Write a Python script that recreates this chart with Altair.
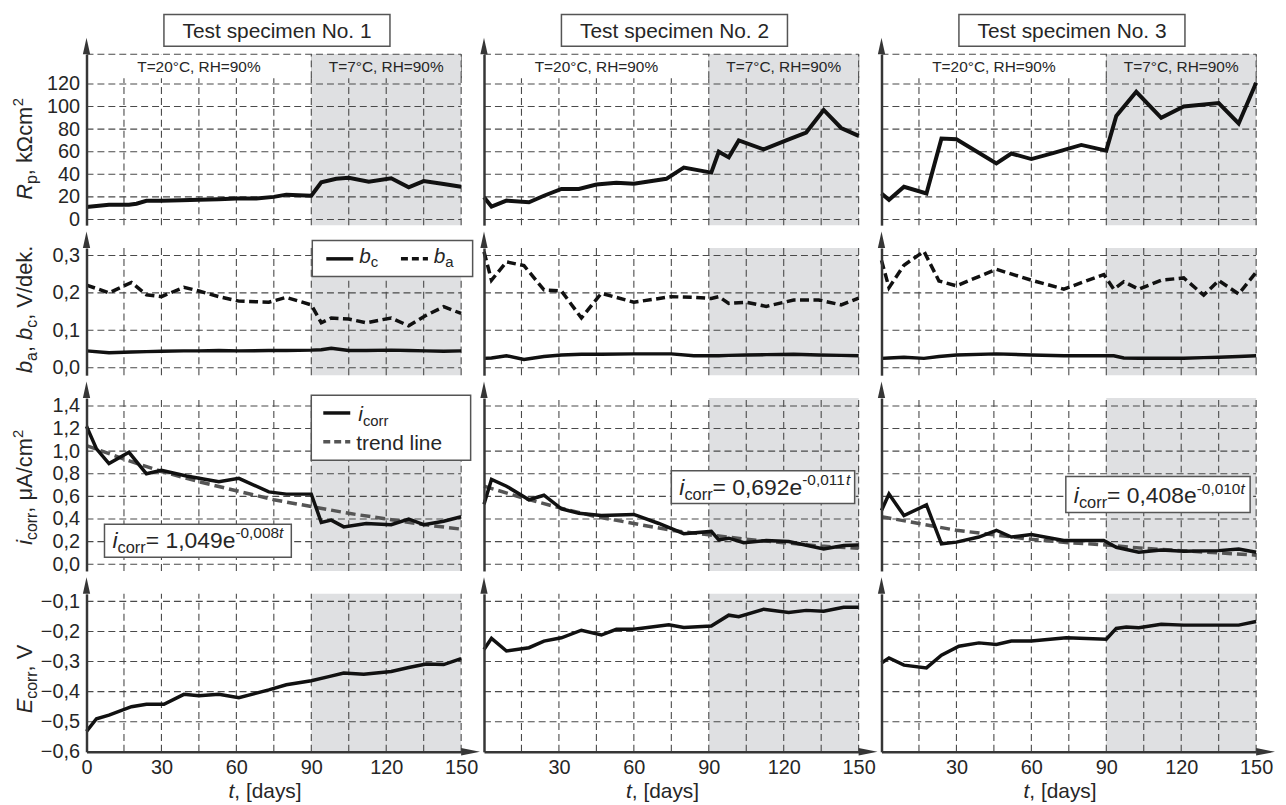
import altair as alt
import pandas as pd

FONT = "Liberation Sans"
TXT = "#262626"
AXC = "#363636"
GRIDC = "#4a4a4a"
SHADE = "#dfe0e2"
LINEC = "#111111"
TRENDC = "#555555"

# ---------------- categories / ticks ----------------
SPECIMENS = ["Test specimen No. 1", "Test specimen No. 2", "Test specimen No. 3"]
CONDITIONS = ["T=20°C, RH=90%", "T=7°C, RH=90%"]
DAY_GRID = [15, 30, 45, 60, 75, 90, 105, 120, 135, 150]
DAY_LABELS_FIRST = [0, 30, 60, 90, 120, 150]
DAY_LABELS_OTHER = [30, 60, 90, 120, 150]
COLD_PERIOD = [90, 150]
RP_TICKS = [0, 20, 40, 60, 80, 100, 120]
B_TICKS = [0.0, 0.1, 0.2, 0.3]
I_TICKS = [0.0, 0.2, 0.4, 0.6, 0.8, 1.0, 1.2, 1.4]
E_TICKS = [-0.6, -0.5, -0.4, -0.3, -0.2, -0.1]
EQ_COEF = ["1,049", "0,692", "0,408"]
EQ_EXP = ["-0,008", "-0,011", "-0,010"]

# ---------------- specimen 1 ----------------
T1_RP = [0, 4, 9, 17, 20, 24, 30, 38, 45, 53, 60, 68, 75, 80, 90, 94, 100, 105, 113, 122, 129, 135, 143, 150]
RP1 = [11, 12, 13, 13, 14, 16.5, 16.5, 17, 17.5, 18, 18.5, 18.5, 20, 22, 21, 33, 36, 37, 33.5, 36.5, 28.5, 34, 31.5, 29]
T1_B = [0, 9, 18, 24, 30, 39, 45, 53, 61, 73, 80, 90, 94, 98, 105, 112, 122, 129, 136, 143, 150]
BA1 = [0.221, 0.20, 0.228, 0.195, 0.19, 0.215, 0.205, 0.19, 0.178, 0.175, 0.188, 0.168, 0.12, 0.133, 0.13, 0.12, 0.133, 0.112, 0.14, 0.163, 0.145]
BC1 = [0.045, 0.040, 0.042, 0.043, 0.044, 0.045, 0.045, 0.046, 0.045, 0.046, 0.046, 0.047, 0.048, 0.052, 0.046, 0.046, 0.047, 0.046, 0.045, 0.044, 0.045]
T1_I = [0, 4, 9, 17, 24, 30, 40, 53, 61, 73, 80, 90, 94, 98, 103, 112, 122, 129, 135, 143, 150]
IC1 = [1.22, 1.02, 0.89, 0.99, 0.80, 0.83, 0.78, 0.73, 0.76, 0.64, 0.62, 0.62, 0.37, 0.39, 0.33, 0.36, 0.35, 0.40, 0.35, 0.38, 0.42]
T1_E = [0, 4, 9, 18, 24, 31, 39, 45, 53, 61, 73, 80, 90, 97, 103, 111, 122, 129, 136, 143, 150]
EC1 = [-0.532, -0.49, -0.478, -0.45, -0.442, -0.442, -0.409, -0.414, -0.409, -0.42, -0.394, -0.377, -0.364, -0.35, -0.338, -0.342, -0.333, -0.32, -0.308, -0.31, -0.29]

# ---------------- specimen 2 ----------------
T2_RP = [0, 3, 9, 18, 24, 31, 38, 45, 53, 60, 73, 80, 91, 94, 98, 102, 112, 121, 129, 136, 143, 150]
RP2 = [19.6, 11.5, 16.7, 15.3, 21, 27, 27, 31, 32.6, 31.7, 36, 46, 41.5, 60, 55, 70, 62, 70, 77, 97, 81, 74]
T2_B = [0, 3, 9, 16, 24, 31, 39, 47, 60, 75, 84, 91, 94, 98, 105, 113, 124, 134, 143, 150]
BA2 = [0.31, 0.234, 0.283, 0.273, 0.208, 0.205, 0.133, 0.199, 0.175, 0.19, 0.188, 0.185, 0.19, 0.172, 0.175, 0.164, 0.181, 0.181, 0.168, 0.186]
BC2 = [0.025, 0.026, 0.032, 0.022, 0.030, 0.034, 0.036, 0.036, 0.037, 0.037, 0.032, 0.032, 0.032, 0.033, 0.034, 0.035, 0.036, 0.034, 0.033, 0.032]
T2_I = [0, 3, 9, 18, 24, 31, 38, 47, 60, 70, 80, 91, 94, 98, 104, 113, 122, 136, 144, 150]
IC2 = [0.53, 0.75, 0.69, 0.57, 0.61, 0.49, 0.45, 0.43, 0.44, 0.36, 0.27, 0.29, 0.215, 0.23, 0.19, 0.21, 0.20, 0.135, 0.165, 0.17]
T2_E = [0, 3, 9, 18, 24, 31, 39, 47, 53, 60, 74, 80, 91, 98, 102, 112, 122, 129, 136, 144, 150]
EC2 = [-0.26, -0.223, -0.265, -0.254, -0.232, -0.221, -0.196, -0.212, -0.193, -0.193, -0.178, -0.187, -0.182, -0.146, -0.151, -0.126, -0.137, -0.13, -0.133, -0.12, -0.12]

# ---------------- specimen 3 ----------------
T3_RP = [0, 3, 9, 18, 24, 30, 46, 52, 60, 69, 80, 90, 94, 102, 112, 121, 135, 143, 150]
RP3 = [23, 17.4, 29, 23, 71.6, 71, 49.6, 58.4, 53.5, 59, 66, 61, 91.6, 113, 90, 100, 103, 85, 121]
T3_B = [0, 3, 9, 17, 23, 30, 46, 60, 73, 89, 93, 97, 103, 112, 121, 129, 135, 143, 150]
BA3 = [0.287, 0.214, 0.274, 0.311, 0.232, 0.219, 0.263, 0.234, 0.21, 0.249, 0.21, 0.23, 0.21, 0.234, 0.24, 0.194, 0.233, 0.197, 0.255]
BC3 = [0.025, 0.026, 0.028, 0.025, 0.030, 0.034, 0.037, 0.034, 0.032, 0.032, 0.032, 0.026, 0.025, 0.025, 0.025, 0.027, 0.028, 0.030, 0.032]
T3_I = [0, 3, 9, 18, 24, 30, 39, 46, 52, 60, 73, 89, 94, 103, 112, 121, 135, 143, 150]
IC3 = [0.475, 0.62, 0.43, 0.525, 0.18, 0.195, 0.24, 0.30, 0.24, 0.263, 0.21, 0.21, 0.15, 0.106, 0.125, 0.115, 0.12, 0.135, 0.106]
T3_E = [0, 3, 9, 18, 24, 31, 39, 46, 52, 60, 74, 90, 94, 98, 103, 112, 121, 143, 150]
EC3 = [-0.305, -0.288, -0.312, -0.321, -0.279, -0.249, -0.238, -0.243, -0.232, -0.232, -0.221, -0.226, -0.19, -0.185, -0.188, -0.176, -0.179, -0.179, -0.167]

# ---------------- trend lines ----------------
TREND_T = [0, 15, 30, 45, 60, 75, 90, 105, 120, 135, 150]
TREND1 = [1.05, 0.93, 0.82, 0.73, 0.65, 0.57, 0.51, 0.45, 0.40, 0.35, 0.31]
TREND2 = [0.69, 0.59, 0.50, 0.42, 0.36, 0.30, 0.26, 0.22, 0.19, 0.16, 0.14]
TREND3 = [0.42, 0.36, 0.30, 0.26, 0.22, 0.19, 0.17, 0.14, 0.12, 0.10, 0.08]

RP_SERIES = [(T1_RP, RP1), (T2_RP, RP2), (T3_RP, RP3)]
B_SERIES = [(T1_B, BA1, BC1), (T2_B, BA2, BC2), (T3_B, BA3, BC3)]
I_SERIES = [(T1_I, IC1, TREND1), (T2_I, IC2, TREND2), (T3_I, IC3, TREND3)]
E_SERIES = [(T1_E, EC1), (T2_E, EC2), (T3_E, EC3)]

ROWS = [
    dict(dom=[-5.0, 146.3], h=172, ticks=RP_TICKS, hgrid=RP_TICKS + [146.3], fmt="int", yc=62.5),
    dict(dom=[-0.02, 0.32], h=128, ticks=B_TICKS, hgrid=B_TICKS, fmt="dec", yc=0.156),
    dict(dom=[-0.06, 1.47], h=174, ticks=I_TICKS, hgrid=I_TICKS, fmt="dec", yc=0.68),
    dict(dom=[-0.6, -0.075], h=159, ticks=E_TICKS, hgrid=E_TICKS[1:], fmt="dec", yc=-0.358),
]

Y_TITLES = [
    [("R", 22, True, 0), ("p", 16, False, 5), (", kΩcm", 22, False, 0), ("2", 15, False, -9)],
    [("b", 22, True, 0), ("a", 16, False, 5), (", ", 22, False, 0), ("b", 22, True, 0),
     ("c", 16, False, 5), (", V/dek.", 22, False, 0)],
    [("i", 22, True, 0), ("corr", 16, False, 5), (", μA/cm", 22, False, 0), ("2", 15, False, -9)],
    [("E", 22, True, 0), ("corr", 16, False, 5), (", V", 22, False, 0)],
]

PANEL_W = 377
UP = "M0,-1L0.22,0L-0.22,0Z"
RIGHT = "M1,0L0,-0.2L0,0.2Z"

CW = {' ': 278, ',': 278, '-': 333, '.': 278, '/': 278, '=': 584, '%': 889, '[': 278, ']': 278,
      '°': 400, 'A': 667, 'C': 722, 'E': 667, 'H': 722, 'N': 722, 'R': 722, 'T': 611, 'V': 667,
      'a': 556, 'b': 556, 'c': 500, 'd': 556, 'e': 556, 'i': 222, 'k': 500, 'l': 222, 'm': 833,
      'n': 556, 'o': 556, 'p': 556, 'r': 333, 's': 500, 't': 278, 'y': 500, 'Ω': 768, 'μ': 576}


def tw(s, size):
    return sum(CW.get(ch, 556) for ch in s) * size / 1000.0


def panel(r, c):
    cfg = ROWS[r]
    ymin, ymax = cfg["dom"]
    xs = alt.Scale(domain=[0, 150], nice=False, zero=False)
    ys = alt.Scale(domain=[ymin, ymax], nice=False, zero=False)

    if cfg["fmt"] == "int":
        lab = dict(format="d")
    else:
        lab = dict(labelExpr="replace(format(datum.value, '.1f'), '.', ',')")
    yaxis = alt.Axis(values=cfg["ticks"], labels=(c == 0), title=None, grid=False, ticks=False,
                     tickSize=0, domain=True, domainColor=AXC, domainWidth=2.5, labelFont=FONT,
                     labelFontSize=20, labelColor=TXT, labelPadding=7, labelOverlap=False,
                     labelFlush=False, zindex=1, **lab)
    if r == 3:
        xaxis = alt.Axis(values=DAY_LABELS_FIRST if c == 0 else DAY_LABELS_OTHER, title=None,
                         grid=False, ticks=False, tickSize=0, domain=True, domainColor=AXC,
                         domainWidth=2.5, labelFont=FONT, labelFontSize=20, labelColor=TXT,
                         labelPadding=6, labelOverlap=False, labelFlush=False, format="d", zindex=1)
    else:
        xaxis = None

    def X(f):
        return alt.X(f, type="quantitative", scale=xs, axis=xaxis)

    def Y(f):
        return alt.Y(f, type="quantitative", scale=ys, axis=yaxis)

    def rect(x1, x2, y1, y2, fill="white", stroke=None):
        df = pd.DataFrame({"x": [x1], "x2": [x2], "y": [y1], "y2": [y2]})
        kw = dict(fill=fill)
        if stroke:
            kw.update(stroke=stroke, strokeWidth=1.5)
        else:
            kw.update(strokeWidth=0)
        return alt.Chart(df).mark_rect(**kw).encode(x=X("x"), x2="x2", y=Y("y"), y2="y2")

    def line(ts, vs, color=LINEC, width=3.5, dash=None):
        df = pd.DataFrame({"t": ts, "v": vs})
        kw = dict(color=color, strokeWidth=width)
        if dash:
            kw["strokeDash"] = dash
        return alt.Chart(df).mark_line(**kw).encode(x=X("t"), y=Y("v"))

    def rich(parts, x, y, angle=0, center=False):
        total = sum(tw(p[0], p[1]) for p in parts)
        off = -total / 2.0 if center else 0.0
        src = pd.DataFrame({"x": [x], "y": [y]})
        out = []
        for text, size, italic, dy in parts:
            kw = dict(text=text, font=FONT, fontSize=size, align="left", baseline="alphabetic",
                      dx=round(off, 2), dy=dy, color=TXT)
            if italic:
                kw["fontStyle"] = "italic"
            if angle:
                kw["angle"] = angle
            out.append(alt.Chart(src).mark_text(**kw).encode(x=X("x"), y=Y("y")))
            off += tw(text, size)
        return out

    layers = []
    layers.append(rect(COLD_PERIOD[0], COLD_PERIOD[1], ymin, ymax, fill=SHADE))

    gdash = dict(color=GRIDC, strokeWidth=1.1, strokeDash=[7, 4])
    vg = pd.DataFrame({"t": DAY_GRID, "y1": [ymin] * len(DAY_GRID), "y2": [ymax] * len(DAY_GRID)})
    layers.append(alt.Chart(vg).mark_rule(**gdash).encode(x=X("t"), y=Y("y1"), y2="y2"))

    if r == 0:
        layers.append(rect(0, COLD_PERIOD[0], 125, ymax, fill="white"))
        layers.append(rect(COLD_PERIOD[0], COLD_PERIOD[1], 125, ymax, fill=SHADE))
        band = pd.DataFrame({"t": COLD_PERIOD, "y1": [125, 125], "y2": [ymax, ymax]})
        layers.append(alt.Chart(band).mark_rule(**gdash).encode(x=X("t"), y=Y("y1"), y2="y2"))

    hg = pd.DataFrame({"v": cfg["hgrid"], "x1": [0] * len(cfg["hgrid"]), "x2": [150] * len(cfg["hgrid"])})
    layers.append(alt.Chart(hg).mark_rule(**gdash).encode(y=Y("v"), x=X("x1"), x2="x2"))

    # data
    if r == 0:
        ts, vs = RP_SERIES[c]
        layers.append(line(ts, vs, width=4))
    elif r == 1:
        ts, ba, bc = B_SERIES[c]
        layers.append(line(ts, ba, dash=[9, 4.5]))
        layers.append(line(ts, bc))
    elif r == 2:
        ts, ic, tr = I_SERIES[c]
        layers.append(line(TREND_T, tr, color=TRENDC, dash=[10, 5]))
        layers.append(line(ts, ic))
    else:
        ts, ec = E_SERIES[c]
        layers.append(line(ts, ec))

    # annotations
    if r == 0:
        conds = pd.DataFrame({"x": [45, 120], "y": [130.5, 130.5], "label": CONDITIONS})
        layers.append(alt.Chart(conds).mark_text(font=FONT, fontSize=15.5, color=TXT, align="center",
                                                 baseline="alphabetic").encode(x=X("x"), y=Y("y"), text="label"))
        layers.append(rect(31, 121.5, 153.3, 181.5, stroke="#555555"))
        ttl = pd.DataFrame({"x": [76.3], "y": [160.4], "label": [SPECIMENS[c]]})
        layers.append(alt.Chart(ttl).mark_text(font=FONT, fontSize=21, color=TXT, align="center",
                                               baseline="alphabetic").encode(x=X("x"), y=Y("y"), text="label"))
    if r == 1 and c == 0:
        layers.append(rect(90.4, 154.6, 0.244, 0.34, stroke="#555555"))
        layers.append(line([96, 106.8], [0.291, 0.291]))
        layers += rich([("b", 21, True, 0), ("c", 15, False, 4)], 109.2, 0.279)
        layers.append(line([125.9, 136.7], [0.291, 0.291], dash=[7, 4]))
        layers += rich([("b", 21, True, 0), ("a", 15, False, 4)], 139, 0.279)
    if r == 2:
        if c == 0:
            layers.append(rect(90, 153.8, 0.92, 1.495, stroke="#555555"))
            layers.append(line([94.8, 105.6], [1.338, 1.338]))
            layers += rich([("i", 21, True, 0), ("corr", 15, False, 5)], 108.8, 1.268)
            layers.append(line([94.8, 105.6], [1.083, 1.083], color=TRENDC, dash=[7, 4]))
            layers += rich([("trend line", 21, False, 0)], 108, 1.012)
        box = [(7.2, 82, 0.062, 0.354, 10.4, 0.141),
               (75, 148.4, 0.537, 0.827, 78.2, 0.616),
               (73.8, 147.6, 0.458, 0.775, 77, 0.537)][c]
        layers.append(rect(box[0], box[1], box[2], box[3], stroke="#555555"))
        layers += rich([("i", 23, True, 0), ("corr", 16.5, False, 5), ("= " + EQ_COEF[c] + "e", 23, False, 0),
                        (EQ_EXP[c], 15.5, False, -10), ("t", 15.5, True, -10)], box[4], box[5])
    if r == 3:
        layers += rich([("t", 21, True, 0), (", [days]", 21, False, 0)], 71.5, -0.752, center=True)
    if c == 0:
        layers += rich(Y_TITLES[r], -21.9, cfg["yc"], angle=270, center=True)

    # axis arrows
    ua = pd.DataFrame({"t": [0], "v": [ymax]})
    layers.append(alt.Chart(ua).mark_point(shape=UP, size=1100, filled=True, color=AXC, opacity=1,
                                           strokeWidth=0).encode(x=X("t"), y=Y("v")))
    if r == 3:
        ra = pd.DataFrame({"t": [150], "v": [ymin]})
        layers.append(alt.Chart(ra).mark_point(shape=RIGHT, size=1444, filled=True, color=AXC, opacity=1,
                                               strokeWidth=0).encode(x=X("t"), y=Y("v")))

    return alt.layer(*layers).properties(width=PANEL_W, height=cfg["h"])


panels = [panel(r, c) for r in range(4) for c in range(3)]
chart = alt.concat(*panels, columns=3, spacing=23, bounds="flush", align="each").properties(
    padding={"left": 2, "top": 3, "right": 3, "bottom": 0}, background="white"
).configure_view(strokeWidth=0)

chart.save("out.html", embed_options={"renderer": "svg", "actions": False})
